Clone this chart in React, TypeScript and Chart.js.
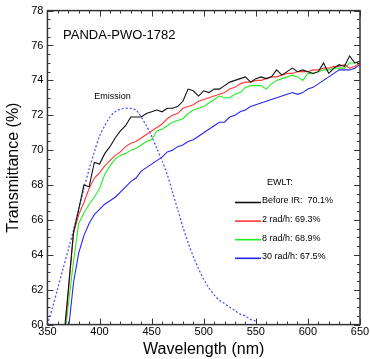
import { useEffect, useRef } from "react";
import { Chart, registerables } from "chart.js";

Chart.register(...registerables);

const FONT = '"Liberation Sans", Arial, sans-serif';

const wavelengths = [
  365, 370, 375, 380, 385, 390, 395, 400, 405, 410, 415, 420, 425, 430, 435, 440, 445, 450, 455,
  460, 465, 470, 475, 480, 485, 490, 495, 500, 505, 510, 515, 520, 525, 530, 535, 540, 545, 550,
  555, 560, 565, 570, 575, 580, 585, 590, 595, 600, 605, 610, 615, 620, 625, 630, 635, 640, 645, 650,
];

const beforeIR = [
  58.8, 62.0, 65.3, 66.6, 68.0, 67.9, 69.3, 69.2, 69.8, 70.2, 70.7, 71.1, 71.4, 71.9, 71.9, 71.9,
  72.1, 72.2, 72.3, 72.2, 72.4, 72.4, 72.5, 72.8, 73.5, 73.4, 73.1, 73.4, 73.3, 73.5, 73.5, 73.7,
  73.9, 74.0, 74.1, 74.2, 73.9, 74.1, 74.2, 74.1, 74.2, 74.6, 74.3, 74.5, 74.7, 74.5, 74.6, 74.5,
  74.4, 74.5, 75.0, 74.4, 74.7, 74.9, 74.8, 75.4, 75.0, 75.1,
];

const rad2 = [
  58.5, 61.8, 65.2, 66.3, 67.0, 67.8, 68.4, 68.7, 69.1, 69.4, 69.7, 69.9, 70.2, 70.4, 70.5, 70.7,
  70.9, 71.1, 71.3, 71.5, 71.8, 72.0, 72.1, 72.4, 72.5, 72.6, 72.8, 72.9, 73.0, 73.1, 73.2, 73.3,
  73.5, 73.6, 73.8, 73.9, 73.9, 74.0, 74.0, 74.1, 74.2, 74.2, 74.3, 74.4, 74.4, 74.5, 74.5, 74.5,
  74.6, 74.6, 74.7, 74.7, 74.8, 74.8, 74.9, 74.7, 74.8, 75.0,
];

const rad8 = [
  58.3, 61.1, 63.6, 65.8, 66.4, 66.9, 67.3, 67.8, 68.6, 69.1, 69.5, 69.7, 69.8, 70.0, 70.1, 70.3,
  70.5, 70.6, 71.1, 71.2, 71.4, 71.6, 71.7, 71.8, 72.1, 72.3, 72.4, 72.5, 72.7, 72.9, 73.1, 73.0,
  73.0, 73.2, 73.3, 73.6, 73.7, 73.7, 73.7, 73.5, 73.8, 74.0, 74.1, 74.2, 74.3, 74.2, 74.0, 74.4,
  74.4, 74.5, 74.6, 74.6, 74.7, 74.7, 74.7, 75.0, 75.0, 75.1,
];

const rad30 = [
  56.5, 59.6, 62.4, 64.1, 65.1, 65.8, 66.3, 66.6, 66.9, 67.1, 67.3, 67.6, 67.9, 68.2, 68.4, 68.8,
  69.0, 69.2, 69.4, 69.6, 69.9, 70.0, 70.2, 70.3, 70.5, 70.6, 70.8, 71.0, 71.2, 71.4, 71.6, 71.6,
  71.9, 72.0, 72.2, 72.3, 72.5, 72.6, 72.7, 72.8, 72.9, 73.0, 73.1, 73.2, 73.3, 73.2, 73.3, 73.5,
  73.6, 73.8, 74.0, 74.2, 74.4, 74.6, 74.6, 74.6, 74.7, 74.9,
];

const emissionWavelengths = [
  350, 355, 360, 365, 370, 375, 380, 385, 390, 395, 400, 405, 410, 415, 420, 425, 430, 435, 440,
  445, 450, 455, 460, 465, 470, 475, 480, 485, 490, 495, 500, 505, 510, 515, 520, 525, 530, 535,
  540, 545, 550,
];

const emissionValues = [
  60.0, 61.0, 62.1, 63.2, 64.3, 65.4, 66.6, 67.8, 68.9, 69.9, 70.8, 71.4, 71.9, 72.2, 72.35, 72.4,
  72.4, 72.3, 71.9, 71.4, 70.8, 70.1, 69.4, 68.6, 67.6, 66.6, 65.6, 64.7, 63.9, 63.2, 62.6, 62.1,
  61.7, 61.4, 61.2, 61.0, 60.8, 60.6, 60.5, 60.3, 60.2,
];

const seriesLabels = ["Before IR:  70.1%", "2 rad/h: 69.3%", "8 rad/h: 68.9%", "30 rad/h: 67.5%"];
const seriesColors = ["#111111", "#ff3838", "#22ee22", "#2626ee"];
const legendTitle = "EWLT:";
const sampleName = "PANDA-PWO-1782";
const emissionLabel = "Emission";

const toPoints = (xs: number[], ys: number[]) => xs.map((x, i) => ({ x, y: ys[i] }));

const framePlugin = {
  id: "frameTicks",
  afterDatasetsDraw(chart: any) {
    const { ctx, chartArea: a, scales } = chart;
    const x = scales.x;
    const y = scales.y;
    ctx.save();
    ctx.strokeStyle = "#333";
    ctx.lineWidth = 1;
    ctx.beginPath();
    for (let v = 350; v <= 650; v += 10) {
      const px = Math.round(x.getPixelForValue(v)) + 0.5;
      const len = v % 50 === 0 ? 6 : 3;
      ctx.moveTo(px, a.bottom);
      ctx.lineTo(px, a.bottom - len);
      ctx.moveTo(px, a.top);
      ctx.lineTo(px, a.top + len);
    }
    for (let v = 60; v <= 78.001; v += 0.5) {
      const py = Math.round(y.getPixelForValue(v)) + 0.5;
      const len = Math.abs(v % 2) < 0.01 ? 6 : 3;
      ctx.moveTo(a.left, py);
      ctx.lineTo(a.left + len, py);
      ctx.moveTo(a.right, py);
      ctx.lineTo(a.right - len, py);
    }
    ctx.stroke();
    ctx.lineWidth = 1.5;
    ctx.strokeRect(a.left, a.top, a.right - a.left, a.bottom - a.top);

    // annotations
    ctx.fillStyle = "#000";
    ctx.textBaseline = "middle";
    ctx.textAlign = "left";
    ctx.font = `13px ${FONT}`;
    ctx.fillText(sampleName, x.getPixelForValue(365), y.getPixelForValue(76.6));
    ctx.font = `9px ${FONT}`;
    ctx.fillText(emissionLabel, x.getPixelForValue(395), y.getPixelForValue(73.1));

    // legend
    const lx0 = a.right - 125;
    const textX = lx0 + 27;
    ctx.fillText(legendTitle, textX + 5, 183);
    for (let i = 0; i < seriesLabels.length; i++) {
      const cy = 201 + i * 18.6;
      ctx.strokeStyle = seriesColors[i];
      ctx.lineWidth = 1.6;
      ctx.beginPath();
      ctx.moveTo(lx0, cy + 1.5);
      ctx.lineTo(lx0 + 26, cy + 1.5);
      ctx.stroke();
      ctx.fillStyle = "#000";
      ctx.fillText(seriesLabels[i], textX, cy);
    }
    ctx.restore();
  },
};

export default function App() {
  const ref = useRef<HTMLCanvasElement>(null);
  useEffect(() => {
    document.body.style.margin = "0";
    const series = [beforeIR, rad2, rad8, rad30];
    const datasets: any[] = series.map((vals, i) => ({
      label: seriesLabels[i],
      data: toPoints(wavelengths, vals),
      borderColor: seriesColors[i],
      borderWidth: 1.1,
      pointRadius: 0,
      tension: 0,
    }));
    datasets.push({
      label: emissionLabel,
      data: toPoints(emissionWavelengths, emissionValues),
      borderColor: "#4848ff",
      borderWidth: 1.2,
      borderDash: [2, 2],
      pointRadius: 0,
      tension: 0.3,
    });
    const chart = new Chart(ref.current!, {
      type: "line",
      data: { datasets },
      plugins: [framePlugin],
      options: {
        animation: false,
        responsive: false,
        layout: { padding: { left: 4, right: 10, top: 5, bottom: 0 } },
        plugins: { legend: { display: false }, tooltip: { enabled: false } },
        scales: {
          x: {
            type: "linear",
            min: 350,
            max: 650,
            afterFit: (s: any) => {
              s.paddingRight = 0;
              s.paddingLeft = 0;
            },
            ticks: { stepSize: 50, color: "#000", font: { family: FONT, size: 11 }, padding: 1, maxRotation: 0 },
            grid: { display: false, drawTicks: false },
            border: { display: false },
            title: { display: true, text: "Wavelength (nm)", color: "#000", font: { family: FONT, size: 16 }, padding: { top: 0, bottom: 0 } },
          },
          y: {
            type: "linear",
            min: 60,
            max: 78,
            ticks: { stepSize: 2, color: "#000", font: { family: FONT, size: 11 }, padding: 4 },
            grid: { display: false, drawTicks: false },
            border: { display: false },
            title: { display: true, text: "Transmittance (%)", color: "#000", font: { family: FONT, size: 16 }, padding: { top: 0, bottom: 4 } },
          },
        },
      },
    });
    return () => chart.destroy();
  }, []);
  return (
    <div style={{ width: 370, height: 359 }}>
      <canvas ref={ref} width={370} height={359} style={{ display: "block" }} />
    </div>
  );
}
